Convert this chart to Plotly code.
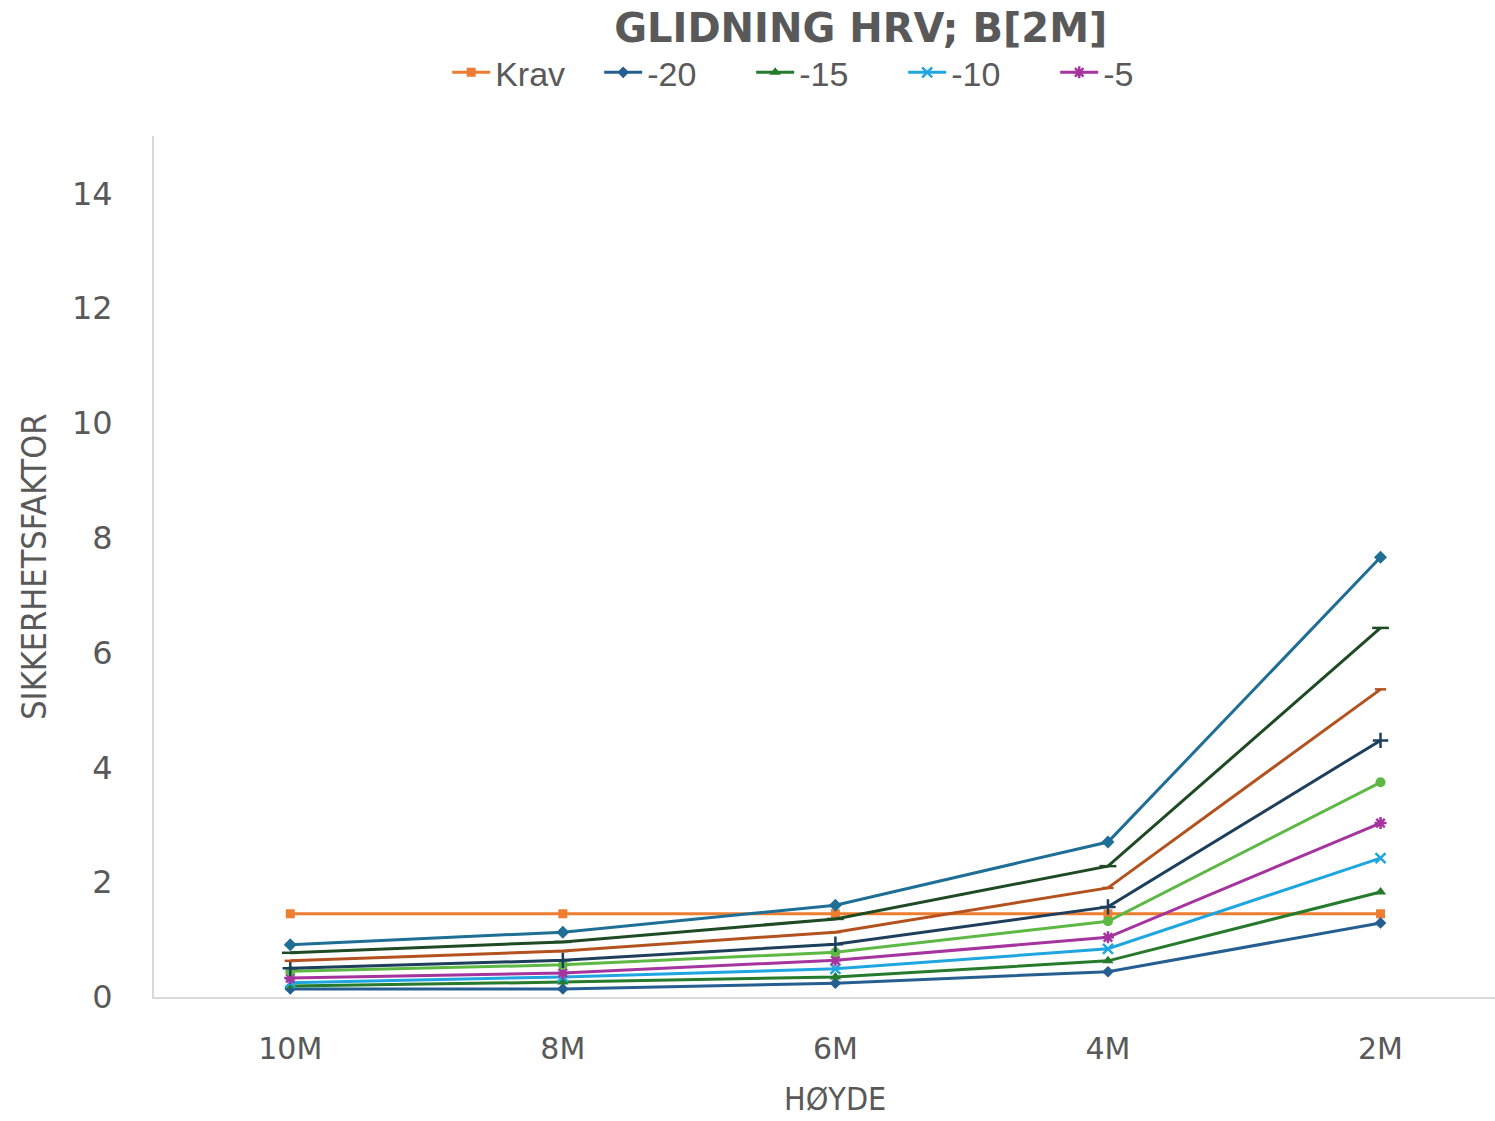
import plotly.graph_objects as go

categories = ["10M", "8M", "6M", "4M", "2M"]
krav = [1.45, 1.45, 1.45, 1.45, 1.45]
s_m20 = [0.14, 0.14, 0.24, 0.44, 1.29]
s_m15 = [0.19, 0.26, 0.35, 0.63, 1.83]
s_m10 = [0.25, 0.35, 0.49, 0.84, 2.42]
s_m5 = [0.33, 0.42, 0.64, 1.04, 3.03]
s_0 = [0.45, 0.56, 0.78, 1.32, 3.74]
s_5 = [0.50, 0.64, 0.92, 1.57, 4.47]
s_10 = [0.63, 0.80, 1.13, 1.90, 5.36]
s_15 = [0.77, 0.96, 1.36, 2.28, 6.43]
s_20 = [0.91, 1.13, 1.60, 2.70, 7.66]

series = [
    ("Krav", krav, "#ED7D31", "square", 9, True),
    ("-20", s_m20, "#255E91", "diamond", 9, True),
    ("-15", s_m15, "#267A2B", "triangle-up", 10, True),
    ("-10", s_m10, "#1FA6E0", "x-thin-open", 10, True),
    ("-5", s_m5, "#A5349F", "asterisk-open", 10, True),
    ("0", s_0, "#5DB844", "circle", 10, False),
    ("5", s_5, "#1E3F5C", "cross-thin-open", 11, False),
    ("10", s_10, "#B4521F", "line-ew-open", 8, False),
    ("15", s_15, "#1E4A24", "line-ew-open", 12, False),
    ("20", s_20, "#1E6E96", "diamond", 10, False),
]

fig = go.Figure()
for name, vals, color, sym, size, show in series:
    fig.add_trace(go.Scatter(
        x=categories, y=vals, name=name, mode="lines+markers",
        line=dict(color=color, width=3),
        marker=dict(symbol=sym, size=size, color=color,
                    line=dict(color=color, width=2.5 if "open" in sym else 0)),
        showlegend=show,
    ))

gray = "#595959"
fig.update_layout(
    width=1495, height=1121, autosize=False,
    paper_bgcolor="white", plot_bgcolor="white",
    margin=dict(l=154, r=0, t=136, b=124),
    title=dict(text="<b>GLIDNING HRV; B[2M]</b>", x=0.527, xref="paper", xanchor="center",
               y=0.975, yanchor="middle",
               font=dict(family="DejaVu Sans", size=40, color=gray)),
    legend=dict(orientation="h", x=0.502, xref="paper", xanchor="center",
                y=1.0735, yanchor="middle",
                font=dict(family="Liberation Sans, Arial", size=34, color=gray),
                itemwidth=38, entrywidth=99, entrywidthmode="pixels", tracegroupgap=0),
    xaxis=dict(type="category", range=[-0.5, 4.42], showgrid=False, zeroline=False,
               showline=True, linecolor="#D9D9D9", linewidth=2,
               ticks="", ticklabelstandoff=24,
               tickfont=dict(family="DejaVu Sans", size=30, color=gray)),
    yaxis=dict(range=[0, 15], tickvals=[0, 2, 4, 6, 8, 10, 12, 14], showgrid=False,
               zeroline=False, showline=True, linecolor="#D9D9D9", linewidth=2,
               ticks="", ticklabelstandoff=33,
               tickfont=dict(family="DejaVu Sans", size=32, color=gray)),
    annotations=[
        dict(text="SIKKERHETSFAKTOR", x=-0.09, y=0.5, xref="paper", yref="paper",
             textangle=-90, showarrow=False, xanchor="center", yanchor="middle",
             font=dict(family="Liberation Sans Narrow, DejaVu Sans Condensed", size=34, color=gray)),
        dict(text="HØYDE", x=0.508, y=-0.118, xref="paper", yref="paper",
             showarrow=False, xanchor="center", yanchor="middle",
             font=dict(family="Liberation Sans Narrow, DejaVu Sans Condensed", size=32, color=gray)),
    ],
)

fig.write_html("out.html", config={"displayModeBar": False},
               post_script="document.body.style.margin='0px';document.body.style.overflow='hidden';")
